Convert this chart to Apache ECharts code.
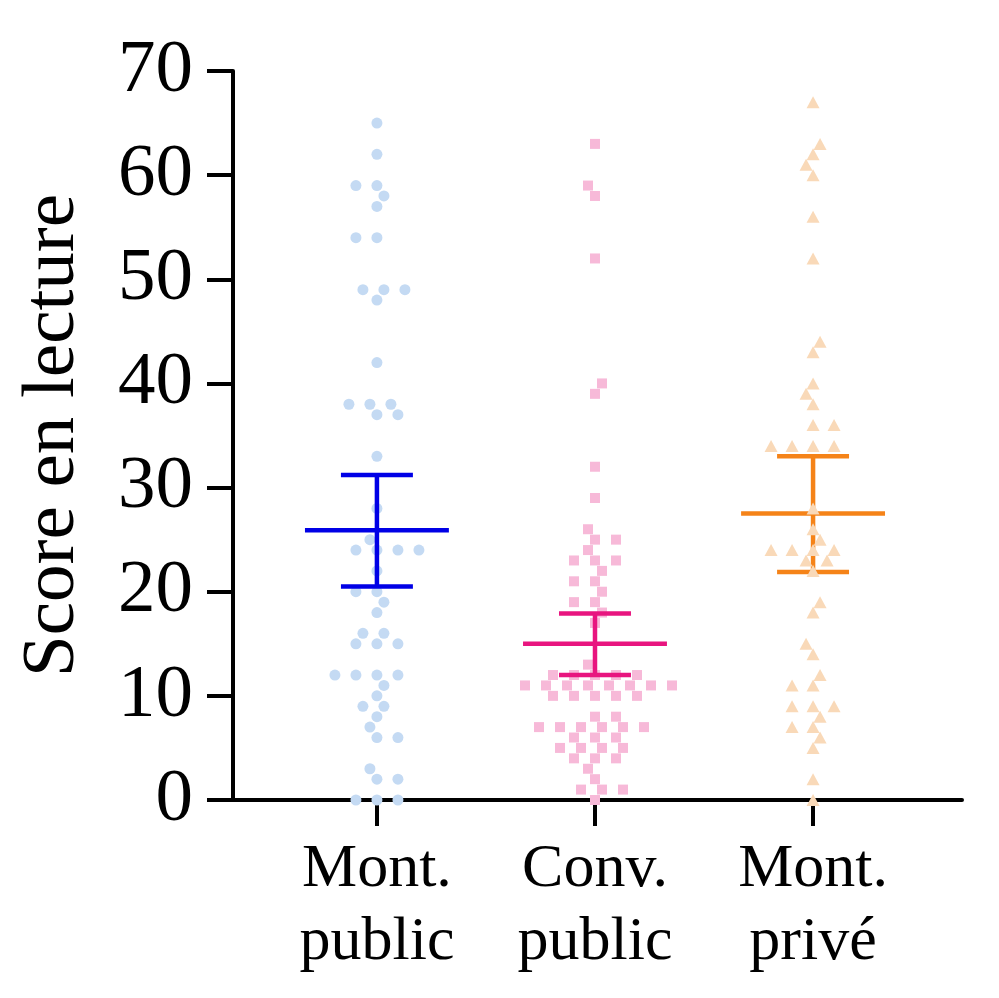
<!DOCTYPE html>
<html>
<head>
<meta charset="utf-8">
<script src="https://cdn.jsdelivr.net/npm/echarts@6/dist/echarts.min.js"></script>
<style>
  html, body { margin: 0; padding: 0; background: #fff; }
  #chart { width: 999px; height: 998px; }
</style>
</head>
<body>
<div id="chart"></div>
<script>
// groups shown along the x axis
var categories = ['Mont.\npublic', 'Conv.\npublic', 'Mont.\nprivé'];

// individual reading scores
var montPublic = [65, 62, 59, 59, 58, 57, 54, 54, 49, 49, 49, 48, 42, 38, 38, 38, 37, 37, 33,
    28, 25, 24, 24, 24, 24, 22, 20, 20, 19, 18, 16, 16, 15, 15, 15, 12, 12, 12, 12, 11, 10,
    9, 9, 8, 7, 6, 6, 3, 2, 2, 0, 0, 0];
var convPublic = [63, 59, 58, 52, 40, 39, 32, 29, 26, 25, 25, 24, 23, 23, 23, 22, 21, 21, 20,
    19, 19, 18, 17, 13, 12, 12, 12, 12, 12, 11, 11, 11, 11, 11, 11, 11, 11, 10, 10, 10, 10, 10,
    8, 8, 7, 7, 7, 7, 7, 7, 6, 6, 6, 5, 5, 5, 5, 4, 4, 4, 3, 2, 1, 1, 1, 0];
var montPrive = [67, 63, 62, 61, 60, 56, 52, 44, 43, 40, 39, 38, 36, 36, 34, 34, 34, 34, 28,
    26, 25, 24, 24, 24, 24, 23, 23, 22, 19, 18, 15, 14, 12, 11, 11, 9, 9, 9, 8, 7, 7, 6, 5, 2, 0];

// mean and interval drawn for each group
var means = [25.9, 15.0, 27.5];
var lowers = [20.5, 12.0, 21.9];
var uppers = [31.2, 17.9, 33.0];

var yTicks = [0, 10, 20, 30, 40, 50, 60, 70];

var groups = [montPublic, convPublic, montPrive];
var dotColors = ['#c4daf3', '#f7b9d8', '#f9d9b8'];
var barColors = ['#0000e6', '#e8157f', '#f58318'];
var symbols = ['circle', 'rect', 'triangle'];
var symbolSizes = [11, 10, [13, 12]];

var grid = {left: 233, top: 71, right: 37, bottom: 198};
var xMin = -0.66, xMax = 2.683;
var pxPerX = (999 - grid.left - grid.right) / (xMax - xMin);
var pxPerY = (998 - grid.top - grid.bottom) / 70;

// simple beeswarm: spread points sideways so they do not overlap
function swarm(values) {
    var step = 7, rx = 14.5, ry = 11;
    var order = values.map(function(v, i) { return i; });
    order.sort(function(a, b) { return values[a] - values[b]; });
    var placed = [];
    var offs = [];
    var left = 0, right = 0;
    order.forEach(function(i) {
        var y = values[i] * pxPerY;
        function free(x) {
            for (var j = 0; j < placed.length; j++) {
                var dx = (placed[j][0] - x) / rx, dy = (placed[j][1] - y) / ry;
                if (dx * dx + dy * dy < 1) return false;
            }
            return true;
        }
        var chosen = 0;
        for (var k = 0; k < 40; k++) {
            var cands = k === 0 ? [0] : (right > left ? [-k * step, k * step] : [k * step, -k * step]);
            var found = false;
            for (var c = 0; c < cands.length; c++) {
                if (free(cands[c])) { chosen = cands[c]; found = true; break; }
            }
            if (found) break;
        }
        placed.push([chosen, y]);
        if (chosen > 0) right++;
        if (chosen < 0) left++;
        offs[i] = chosen;
    });
    return offs;
}

var series = [];
groups.forEach(function(vals, g) {
    var offs = swarm(vals);
    series.push({
        type: 'scatter',
        symbol: symbols[g],
        symbolSize: symbolSizes[g],
        itemStyle: {color: dotColors[g], opacity: 1},
        z: g === 2 ? 4 : 2,
        silent: true,
        data: vals.map(function(v, i) { return [g + offs[i] / pxPerX, v]; })
    });
});

series.push({
    type: 'custom',
    z: 3,
    silent: true,
    data: means.map(function(m, i) { return [i, m, lowers[i], uppers[i]]; }),
    renderItem: function(params, api) {
        var x = api.value(0), m = api.value(1), lo = api.value(2), hi = api.value(3);
        var col = barColors[params.dataIndex];
        var st = {stroke: col, lineWidth: 4.5};
        function seg(x1, y1, x2, y2) {
            var a = api.coord([x1, y1]), b = api.coord([x2, y2]);
            return {type: 'line', shape: {x1: a[0], y1: a[1], x2: b[0], y2: b[1]}, style: st};
        }
        return {
            type: 'group',
            children: [
                seg(x, lo, x, hi),
                seg(x - 0.33, m, x + 0.33, m),
                seg(x - 0.165, hi, x + 0.165, hi),
                seg(x - 0.165, lo, x + 0.165, lo)
            ]
        };
    }
});

var chart = echarts.init(document.getElementById('chart'), null, {renderer: 'canvas'});
chart.setOption({
    backgroundColor: '#ffffff',
    animation: false,
    textStyle: {fontFamily: 'Liberation Serif'},
    grid: {left: grid.left, top: grid.top, right: grid.right, bottom: grid.bottom, containLabel: false},
    xAxis: {
        type: 'value',
        min: xMin,
        max: xMax,
        splitLine: {show: false},
        axisLine: {show: true, onZero: false, lineStyle: {color: '#000', width: 4}},
        axisTick: {show: true, customValues: [0, 1, 2], length: 26, lineStyle: {color: '#000', width: 4}},
        axisLabel: {
            customValues: [0, 1, 2],
            formatter: function(v) { return categories[Math.round(v)]; },
            fontFamily: 'Liberation Serif',
            fontSize: 62,
            lineHeight: 73,
            color: '#000',
            margin: 33
        }
    },
    yAxis: {
        type: 'value',
        min: 0,
        max: 70,
        interval: 10,
        name: 'Score en lecture',
        nameLocation: 'middle',
        nameGap: 142,
        nameTextStyle: {fontFamily: 'Liberation Serif', fontSize: 75, color: '#000'},
        splitLine: {show: false},
        axisLine: {show: true, onZero: false, lineStyle: {color: '#000', width: 4}},
        axisTick: {show: true, length: 26, lineStyle: {color: '#000', width: 4}},
        axisLabel: {
            fontFamily: 'Liberation Serif',
            fontSize: 75,
            color: '#000',
            margin: 40,
            formatter: function(v) { return yTicks.indexOf(v) >= 0 ? String(v) : ''; }
        }
    },
    series: series
});
</script>
</body>
</html>
